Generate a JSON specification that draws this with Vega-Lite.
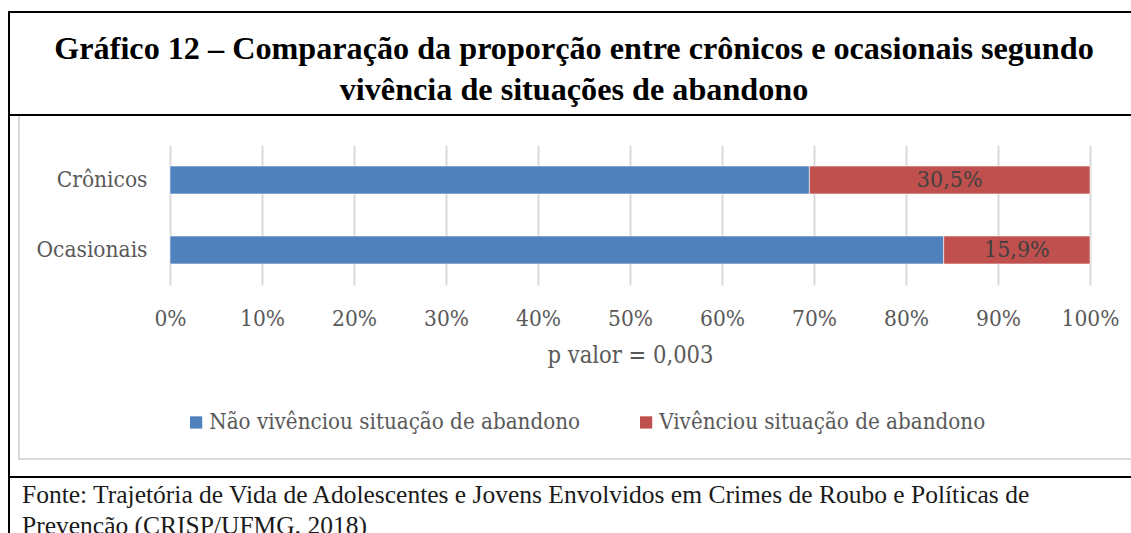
{
  "$schema": "https://vega.github.io/schema/vega-lite/v6.json",
  "background": "white",
  "padding": {"left": 8, "top": 11, "right": 0, "bottom": 0},
  "spacing": 0,
  "resolve": {"scale": {"color": "independent"}, "legend": {"color": "independent"}},
  "vconcat": [
    {
      "width": 1130,
      "height": 103,
      "view": {"stroke": "#000000", "strokeWidth": 2},
      "data": {"values": [
        {"linha": 1, "texto": "Gráfico 12 – Comparação da proporção entre crônicos e ocasionais segundo"},
        {"linha": 2, "texto": "vivência de situações de abandono"}
      ]},
      "mark": {"type": "text", "font": "Liberation Serif", "fontWeight": "bold", "fontSize": 32.2, "color": "#000000", "align": "center", "baseline": "alphabetic"},
      "encoding": {
        "x": {"datum": 0.5, "type": "quantitative", "scale": {"domain": [0, 1], "nice": false}, "axis": null},
        "y": {"field": "linha", "type": "ordinal", "axis": null, "scale": {"type": "point", "padding": 0.756, "align": 0.758}},
        "text": {"field": "texto", "type": "nominal"}
      }
    },
    {
      "spacing": 7,
      "resolve": {"scale": {"color": "independent"}, "legend": {"color": "independent"}},
      "hconcat": [
        {
          "width": 0.01,
          "height": 358,
          "view": {"stroke": "#000000", "strokeWidth": 2},
          "data": {"values": [{}]},
          "mark": {"type": "text", "fontSize": 0},
          "encoding": {"text": {"value": ""}}
        },
        {
          "spacing": 0,
          "resolve": {"scale": {"color": "independent"}, "legend": {"color": "independent"}},
          "vconcat": [
            {
              "spacing": 0,
              "resolve": {"scale": {"color": "independent"}, "legend": {"color": "independent"}},
              "hconcat": [
                {
                  "width": 0.01,
                  "height": 340,
                  "view": {"stroke": "#d9d9d9", "strokeWidth": 2},
                  "data": {"values": [{}]},
                  "mark": {"type": "text", "fontSize": 0},
                  "encoding": {"text": {"value": ""}}
                },
                {
                  "spacing": 27,
                  "resolve": {"scale": {"color": "independent"}, "legend": {"color": "independent"}},
                  "vconcat": [
                    {
                      "width": 0.01,
                      "height": 0.01,
                      "data": {"values": [{}]},
                      "mark": {"type": "text", "fontSize": 0},
                      "encoding": {"text": {"value": ""}}
                    },
                    {
                      "width": 920,
                      "height": 140,
                      "data": {"values": [
                        {"grupo": "Crônicos", "situacao": "Não vivênciou situação de abandono", "proporcao": 0.695},
                        {"grupo": "Crônicos", "situacao": "Vivênciou situação de abandono", "proporcao": 0.305},
                        {"grupo": "Ocasionais", "situacao": "Não vivênciou situação de abandono", "proporcao": 0.841},
                        {"grupo": "Ocasionais", "situacao": "Vivênciou situação de abandono", "proporcao": 0.159}
                      ]},
                      "encoding": {
                        "y": {
                          "field": "grupo", "type": "nominal", "sort": ["Crônicos", "Ocasionais"],
                          "scale": {"paddingInner": 0.6, "paddingOuter": 0.3},
                          "axis": {"title": null, "domain": false, "ticks": false, "grid": false, "labelPadding": 23, "labelFont": "DejaVu Serif Condensed", "labelFontSize": 22.5, "labelColor": "#595959", "minExtent": 149}
                        }
                      },
                      "layer": [
                        {
                          "mark": {"type": "bar", "stroke": "#ffffff", "strokeWidth": 0.6},
                          "encoding": {
                            "x": {
                              "field": "proporcao", "type": "quantitative", "stack": "zero",
                              "scale": {"domain": [0, 1], "nice": false},
                              "axis": {
                                "format": ".0%", "values": [0, 0.1, 0.2, 0.3, 0.4, 0.5, 0.6, 0.7, 0.8, 0.9, 1],
                                "grid": true, "gridColor": "#d9d9d9", "gridWidth": 2,
                                "domain": false, "ticks": false, "labelPadding": 22,
                                "labelFont": "DejaVu Serif Condensed", "labelFontSize": 22.5, "labelColor": "#595959",
                                "labelFlush": false, "labelOverlap": false,
                                "title": "p valor = 0,003", "titleFont": "DejaVu Serif Condensed", "titleFontSize": 23.5,
                                "titleFontWeight": "normal", "titleColor": "#595959", "titlePadding": 14
                              }
                            },
                            "color": {
                              "field": "situacao", "type": "nominal",
                              "scale": {"domain": ["Não vivênciou situação de abandono", "Vivênciou situação de abandono"], "range": ["#4F81BD", "#C0504D"]},
                              "legend": {
                                "title": null, "orient": "bottom", "direction": "horizontal",
                                "symbolType": "square", "symbolSize": 150, "symbolStrokeWidth": 0,
                                "labelFont": "DejaVu Serif Condensed", "labelFontSize": 22.2, "labelColor": "#595959",
                                "columnPadding": 54, "labelOffset": 2, "padding": 15, "offset": 29, "labelLimit": 0
                              }
                            },
                            "order": {"field": "situacao", "type": "nominal", "sort": "ascending"}
                          }
                        },
                        {
                          "mark": {"type": "text", "font": "DejaVu Serif Condensed", "fontSize": 23, "color": "#404040", "baseline": "middle", "align": "center"},
                          "encoding": {
                            "x": {"field": "proporcao", "type": "quantitative", "stack": "zero", "bandPosition": 0.5},
                            "detail": {"field": "situacao", "type": "nominal"},
                            "order": {"field": "situacao", "type": "nominal", "sort": "ascending"},
                            "text": {
                              "condition": {"test": "datum.situacao === 'Vivênciou situação de abandono'", "field": "proporcao", "type": "quantitative", "format": ".1%"},
                              "value": ""
                            }
                          }
                        }
                      ]
                    }
                  ]
                }
              ]
            },
            {
              "width": 1120,
              "height": 0.01,
              "view": {"stroke": "#d9d9d9", "strokeWidth": 2},
              "data": {"values": [{}]},
              "mark": {"type": "text", "fontSize": 0},
              "encoding": {"text": {"value": ""}}
            }
          ]
        }
      ]
    },
    {
      "width": 1130,
      "height": 70,
      "view": {"stroke": "#000000", "strokeWidth": 2},
      "data": {"values": [
        {"linha": 1, "texto": "Fonte: Trajetória de Vida de Adolescentes e Jovens Envolvidos em Crimes de Roubo e Políticas de"},
        {"linha": 2, "texto": "Prevenção (CRISP/UFMG, 2018)"}
      ]},
      "mark": {"type": "text", "font": "Liberation Serif", "fontSize": 25.5, "color": "#1a1a1a", "align": "left", "baseline": "alphabetic", "dx": 13},
      "encoding": {
        "x": {"datum": 0, "type": "quantitative", "scale": {"domain": [0, 1], "nice": false}, "axis": null},
        "y": {"field": "linha", "type": "ordinal", "axis": null, "scale": {"type": "point", "padding": 0.629, "align": 0.667}},
        "text": {"field": "texto", "type": "nominal"}
      }
    }
  ],
  "config": {
    "view": {"stroke": null},
    "locale": {"number": {"decimal": ",", "thousands": ".", "grouping": [3], "currency": ["R$", ""]}}
  }
}
